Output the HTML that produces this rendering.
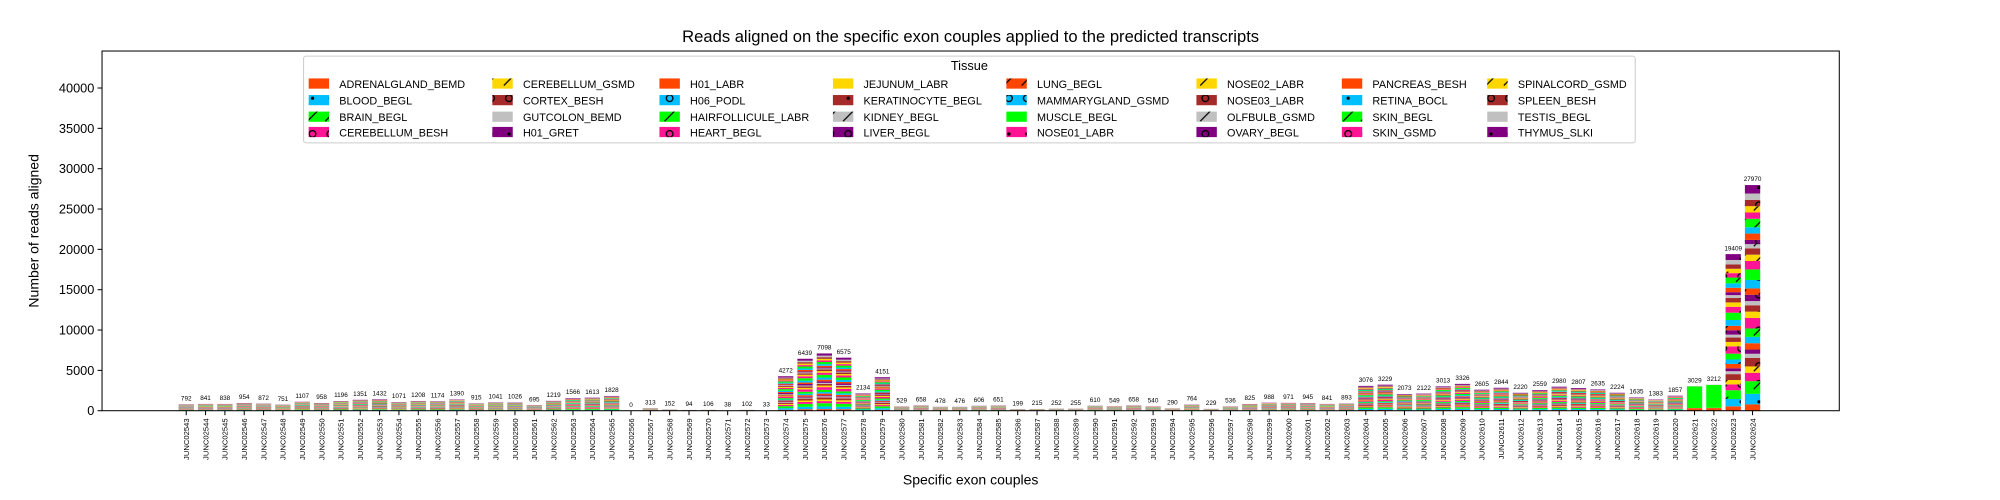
<!DOCTYPE html>
<html><head><meta charset="utf-8"><style>
html,body{margin:0;padding:0;background:#fff;}
svg{display:block;font-family:"Liberation Sans",sans-serif;}
</style></head><body>
<svg id="chart" width="2000" height="500" viewBox="0 0 1568 392" xmlns="http://www.w3.org/2000/svg">
<defs>
<pattern id="h-dot" width="14" height="14" patternUnits="userSpaceOnUse"><circle cx="7" cy="7" r="1.3" fill="#000"/></pattern>
<pattern id="h-slash" width="14" height="14" patternUnits="userSpaceOnUse"><path d="M3,11 L11,3" stroke="#000" stroke-width="1"/></pattern>
<pattern id="h-circle" width="14" height="14" patternUnits="userSpaceOnUse"><circle cx="7" cy="7" r="2.6" fill="none" stroke="#000" stroke-width="1"/></pattern>
</defs>
<text x="761" y="33" font-size="13" text-anchor="middle">Reads aligned on the specific exon couples applied to the predicted transcripts</text>
<text transform="translate(30,181) rotate(-90)" font-size="11" text-anchor="middle">Number of reads aligned</text>
<text x="761" y="380" font-size="11" text-anchor="middle">Specific exon couples</text>
<g id="bars"></g>
<g id="axes"></g>
<g id="legend"></g>
</svg>
<script>
const categories = [];
for (let n = 2543; n <= 2624; n++) categories.push('JUNC0' + n);
const totals = [792,841,838,954,872,751,1107,958,1196,1351,1432,1071,1208,1174,1390,915,1041,1026,695,1219,1566,1613,1828,0,313,152,94,106,38,102,33,4272,6439,7098,6575,2134,4151,529,658,478,476,606,651,199,215,252,255,610,549,658,540,290,764,229,536,825,988,971,945,841,893,3076,3229,2073,2122,3013,3326,2605,2844,2220,2559,2980,2807,2635,2224,1635,1383,1857,3029,3212,19409,27970];
const tissues = ['ADRENALGLAND_BEMD','BLOOD_BEGL','BRAIN_BEGL','CEREBELLUM_BESH','CEREBELLUM_GSMD','CORTEX_BESH','GUTCOLON_BEMD','H01_GRET','H01_LABR','H06_PODL','HAIRFOLLICULE_LABR','HEART_BEGL','JEJUNUM_LABR','KERATINOCYTE_BEGL','KIDNEY_BEGL','LIVER_BEGL','LUNG_BEGL','MAMMARYGLAND_GSMD','MUSCLE_BEGL','NOSE01_LABR','NOSE02_LABR','NOSE03_LABR','OLFBULB_GSMD','OVARY_BEGL','PANCREAS_BESH','RETINA_BOCL','SKIN_BEGL','SKIN_GSMD','SPINALCORD_GSMD','SPLEEN_BESH','TESTIS_BEGL','THYMUS_SLKI'];
const shares = [0.03,0.05,0.06,0.04,0.03,0.04,0.02,0.02,0.03,0.03,0.04,0.05,0.03,0.03,0.02,0.03,0.03,0.04,0.05,0.04,0.03,0.03,0.02,0.02,0.03,0.03,0.04,0.03,0.03,0.03,0.03,0.04];
const muscleBars = [78,79];
const yTicks = [0,5000,10000,15000,20000,25000,30000,35000,40000];
const colors = ['#FF4500','#00BFFF','#00FF00','#FF1493','#FFD700','#A52A2A','#C0C0C0','#800080'];
const hatches = [null,'h-dot','h-slash','h-circle',
                 'h-slash','h-circle',null,'h-dot',
                 null,'h-circle','h-slash','h-circle',
                 null,'h-dot','h-slash','h-circle',
                 'h-slash','h-circle',null,'h-dot',
                 'h-slash','h-circle','h-slash','h-circle',
                 null,'h-dot','h-slash','h-circle',
                 'h-slash','h-circle',null,'h-dot'];

const NS = 'http://www.w3.org/2000/svg';
const X0 = 80, X1 = 1442, Y0 = 322, Y1 = 40;
const yScale = v => Y0 - v * (253 / 40000);
const xScale = i => 146 + i * ((1374 - 146) / (categories.length - 1));
const BW = 12;
function mk(tag, attrs, parent) { const e = document.createElementNS(NS, tag); for (const k in attrs) e.setAttribute(k, attrs[k]); parent.appendChild(e); return e; }

const bars = document.getElementById('bars');
const shareSum = shares.reduce((a, b) => a + b, 0);
categories.forEach((c, i) => {
  const g = mk('g', {}, bars);
  
  
  let cum = 0;
  const isMuscle = muscleBars.includes(i);
  tissues.forEach((t, k) => {
    let frac = shares[k] / shareSum;
    if (isMuscle) frac = (k === 18 ? 0.88 : (k === 0 ? 0.1 : 0.02 / 30));
    const v = totals[i] * frac;
    if (v <= 0) return;
    const yTop = yScale(cum + v), yBot = yScale(cum);
    const r = mk('rect', {x: xScale(i) - BW / 2, y: yTop, width: BW, height: Math.max(0, yBot - yTop), fill: colors[k % 8]}, g);
    
    
    if (hatches[k] && yBot - yTop > 3) mk('rect', {x: xScale(i) - BW / 2, y: yTop, width: BW, height: yBot - yTop, fill: 'url(#' + hatches[k] + ')'}, g);
    cum += v;
  });
  const lbl = mk('text', {x: xScale(i), y: yScale(totals[i]) - 3, 'font-size': 5, 'text-anchor': 'middle'}, g);
  
  
  lbl.textContent = totals[i];
});

const axes = document.getElementById('axes');
const frame = mk('rect', {x: X0, y: Y1, width: X1 - X0, height: Y0 - Y1, fill: 'none', stroke: '#000', 'stroke-width': 0.8}, axes);


yTicks.forEach(v => {
  const y = yScale(v);
  mk('line', {x1: X0 - 3.5, x2: X0, y1: y, y2: y, stroke: '#000', 'stroke-width': 0.8}, axes);
  const t = mk('text', {x: X0 - 6, y: y + 3.5, 'font-size': 10, 'text-anchor': 'end'}, axes);
  
  
  t.textContent = v;
});
categories.forEach((c, i) => {
  const x = xScale(i);
  mk('line', {x1: x, x2: x, y1: Y0, y2: Y0 + 3.5, stroke: '#000', 'stroke-width': 0.8}, axes);
  const t = mk('text', {transform: 'translate(' + (x + 2.2) + ',' + (Y0 + 6) + ') rotate(-90)', 'font-size': 6, 'text-anchor': 'end'}, axes);
  
  
  t.textContent = c;
});

const legend = document.getElementById('legend');
const lbox = mk('rect', {x: 238, y: 44, width: 1044, height: 68, fill: '#fff', 'fill-opacity': 0.8, stroke: '#ccc', 'stroke-width': 0.8, rx: 2}, legend);


const lt = mk('text', {x: 760, y: 55, 'font-size': 10, 'text-anchor': 'middle'}, legend);


lt.textContent = 'Tissue';
const colX = [242, 386, 517, 653, 789, 938, 1052, 1166];
const rowY = [66, 79, 92, 104];
tissues.forEach((t, k) => {
  const col = Math.floor(k / 4), row = k % 4;
  const g = mk('g', {}, legend);
  
  
  mk('rect', {x: colX[col], y: rowY[row] - 4.5, width: 16, height: 8, fill: colors[k % 8]}, g);
  if (hatches[k]) mk('rect', {x: colX[col], y: rowY[row] - 4.5, width: 16, height: 8, fill: 'url(#' + hatches[k] + ')'}, g);
  const tx = mk('text', {x: colX[col] + 24, y: rowY[row] + 3, 'font-size': 8.5}, g);
  tx.textContent = t;
});
</script>
</body></html>
